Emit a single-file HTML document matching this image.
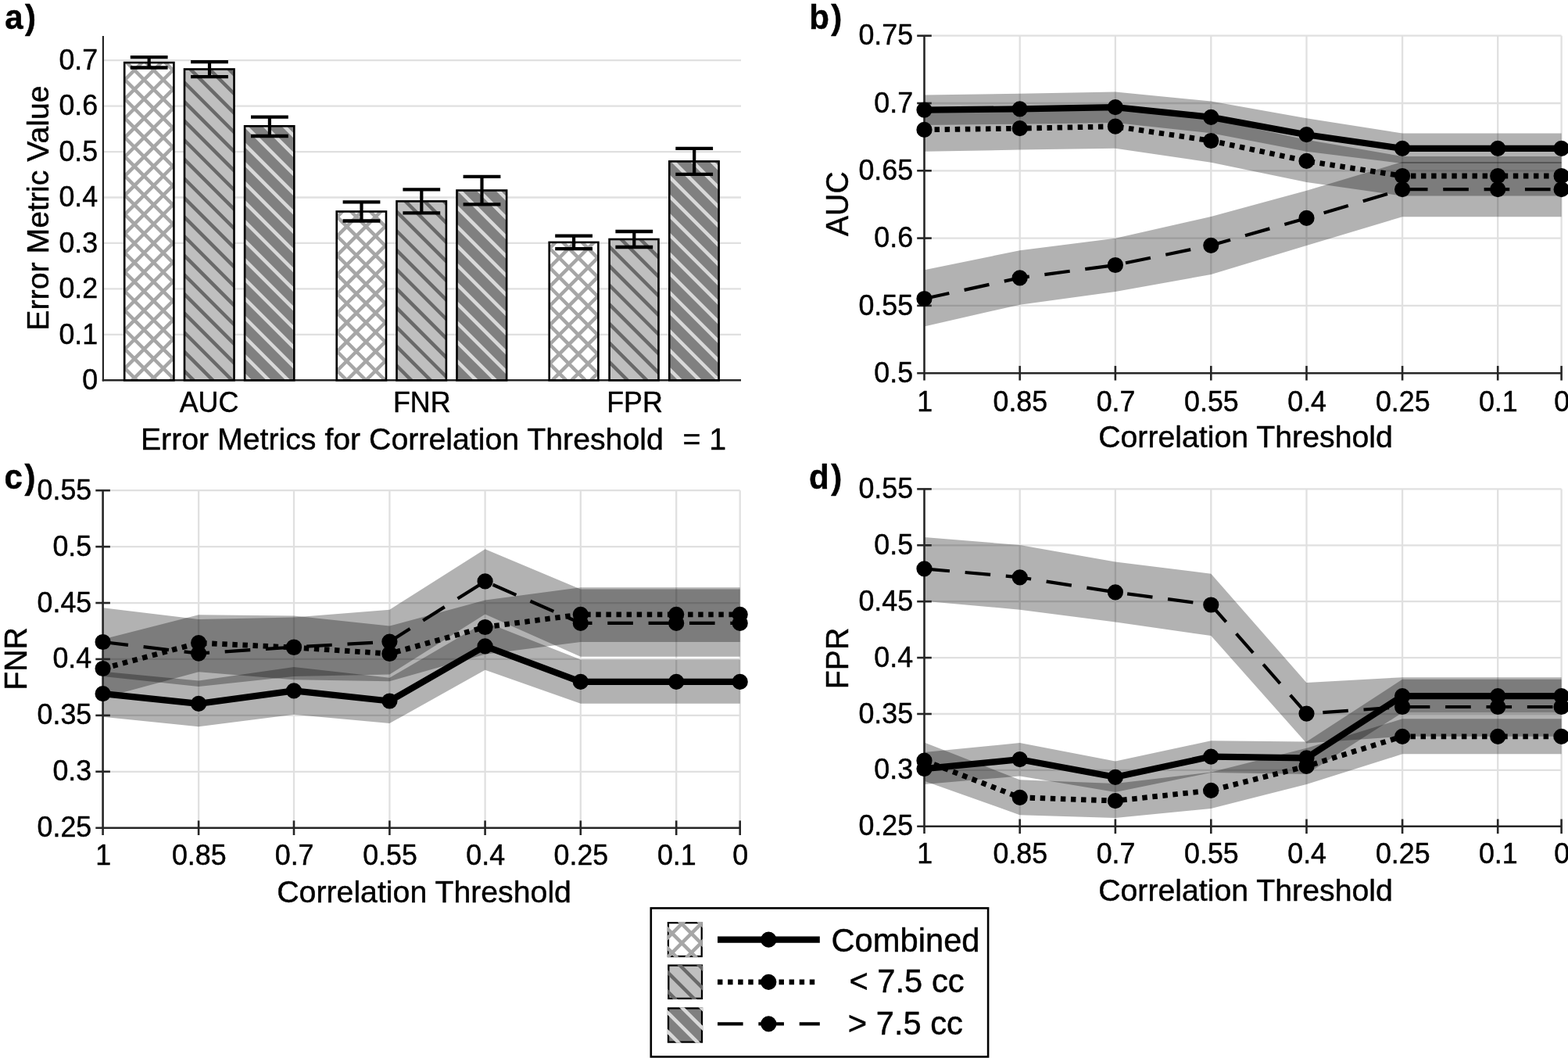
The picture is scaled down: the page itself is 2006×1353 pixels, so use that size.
<!DOCTYPE html>
<html lang="en">
<head>
<meta charset="utf-8">
<title>Error metrics versus correlation threshold</title>
<style>
html,body{margin:0;padding:0;background:#fff;}
body{width:2006px;height:1353px;overflow:hidden;}
main{display:block;margin:0;padding:0;width:2006px;height:1353px;}
svg{display:block;font-family:"Liberation Sans", Arial, Helvetica, sans-serif;fill:#000;}
svg text{fill:#000;stroke:#000;stroke-width:0.45px;stroke-linejoin:round;}
</style>
</head>
<body>
<main>
<svg width="2006" height="1353" viewBox="0 0 2006 1353">
<rect width="2006" height="1353" fill="#fff"/>
<line x1="131.9" y1="427.85" x2="948" y2="427.85" stroke="#e0e0e0" stroke-width="2.3"/>
<line x1="131.9" y1="369.4" x2="948" y2="369.4" stroke="#e0e0e0" stroke-width="2.3"/>
<line x1="131.9" y1="310.95" x2="948" y2="310.95" stroke="#e0e0e0" stroke-width="2.3"/>
<line x1="131.9" y1="252.5" x2="948" y2="252.5" stroke="#e0e0e0" stroke-width="2.3"/>
<line x1="131.9" y1="194.05" x2="948" y2="194.05" stroke="#e0e0e0" stroke-width="2.3"/>
<line x1="131.9" y1="135.6" x2="948" y2="135.6" stroke="#e0e0e0" stroke-width="2.3"/>
<line x1="131.9" y1="77.15" x2="948" y2="77.15" stroke="#e0e0e0" stroke-width="2.3"/>
<line x1="131.9" y1="46" x2="131.9" y2="487.4" stroke="#262626" stroke-width="2.2"/>
<line x1="130.8" y1="486.3" x2="948" y2="486.3" stroke="#262626" stroke-width="2.4"/>
<clipPath id="c1"><rect x="159.2" y="80.05" width="63.2" height="406.25"/></clipPath>
<rect x="159.2" y="80.05" width="63.2" height="406.25" fill="#fff"/>
<path d="M156.2 0.1L225.4 69.3M156.2 24.7L225.4 93.9M156.2 49.3L225.4 118.5M156.2 73.9L225.4 143.1M156.2 98.5L225.4 167.7M156.2 123.1L225.4 192.3M156.2 147.7L225.4 216.9M156.2 172.3L225.4 241.5M156.2 196.9L225.4 266.1M156.2 221.5L225.4 290.7M156.2 246.1L225.4 315.3M156.2 270.7L225.4 339.9M156.2 295.3L225.4 364.5M156.2 319.9L225.4 389.1M156.2 344.5L225.4 413.7M156.2 369.1L225.4 438.3M156.2 393.7L225.4 462.9M156.2 418.3L225.4 487.5M156.2 442.9L225.4 512.1M156.2 467.5L225.4 536.7M156.2 492.1L225.4 561.3M156.2 80.9L225.4 11.7M156.2 105.5L225.4 36.3M156.2 130.1L225.4 60.9M156.2 154.7L225.4 85.5M156.2 179.3L225.4 110.1M156.2 203.9L225.4 134.7M156.2 228.5L225.4 159.3M156.2 253.1L225.4 183.9M156.2 277.7L225.4 208.5M156.2 302.3L225.4 233.1M156.2 326.9L225.4 257.7M156.2 351.5L225.4 282.3M156.2 376.1L225.4 306.9M156.2 400.7L225.4 331.5M156.2 425.3L225.4 356.1M156.2 449.9L225.4 380.7M156.2 474.5L225.4 405.3M156.2 499.1L225.4 429.9M156.2 523.7L225.4 454.5M156.2 548.3L225.4 479.1M156.2 572.9L225.4 503.7" stroke="#a6a6a6" stroke-width="4.5" fill="none" clip-path="url(#c1)"/>
<rect x="159.2" y="80.05" width="63.2" height="406.25" fill="none" stroke="#000" stroke-width="2.6"/>
<clipPath id="c2"><rect x="236" y="88.5" width="63.5" height="397.8"/></clipPath>
<rect x="236" y="88.5" width="63.5" height="397.8" fill="#bfbfbf"/>
<path d="M233 4.2L302.5 73.7M233 28.8L302.5 98.3M233 53.4L302.5 122.9M233 78L302.5 147.5M233 102.6L302.5 172.1M233 127.2L302.5 196.7M233 151.8L302.5 221.3M233 176.4L302.5 245.9M233 201L302.5 270.5M233 225.6L302.5 295.1M233 250.2L302.5 319.7M233 274.8L302.5 344.3M233 299.4L302.5 368.9M233 324L302.5 393.5M233 348.6L302.5 418.1M233 373.2L302.5 442.7M233 397.8L302.5 467.3M233 422.4L302.5 491.9M233 447L302.5 516.5M233 471.6L302.5 541.1M233 496.2L302.5 565.7" stroke="#696969" stroke-width="4.5" fill="none" clip-path="url(#c2)"/>
<rect x="236" y="88.5" width="63.5" height="397.8" fill="none" stroke="#000" stroke-width="2.6"/>
<clipPath id="c3"><rect x="313.1" y="161.3" width="63.2" height="325"/></clipPath>
<rect x="313.1" y="161.3" width="63.2" height="325" fill="#808080"/>
<path d="M310.1 83.4L379.3 152.6M310.1 108L379.3 177.2M310.1 132.6L379.3 201.8M310.1 157.2L379.3 226.4M310.1 181.8L379.3 251M310.1 206.4L379.3 275.6M310.1 231L379.3 300.2M310.1 255.6L379.3 324.8M310.1 280.2L379.3 349.4M310.1 304.8L379.3 374M310.1 329.4L379.3 398.6M310.1 354L379.3 423.2M310.1 378.6L379.3 447.8M310.1 403.2L379.3 472.4M310.1 427.8L379.3 497M310.1 452.4L379.3 521.6M310.1 477L379.3 546.2M310.1 501.6L379.3 570.8" stroke="#d9d9d9" stroke-width="4.5" fill="none" clip-path="url(#c3)"/>
<rect x="313.1" y="161.3" width="63.2" height="325" fill="none" stroke="#000" stroke-width="2.6"/>
<clipPath id="c4"><rect x="430.7" y="270.5" width="63.3" height="215.8"/></clipPath>
<rect x="430.7" y="270.5" width="63.3" height="215.8" fill="#fff"/>
<path d="M427.7 199.9L497 269.2M427.7 224.5L497 293.8M427.7 249.1L497 318.4M427.7 273.7L497 343M427.7 298.3L497 367.6M427.7 322.9L497 392.2M427.7 347.5L497 416.8M427.7 372.1L497 441.4M427.7 396.7L497 466M427.7 421.3L497 490.6M427.7 445.9L497 515.2M427.7 470.5L497 539.8M427.7 495.1L497 564.4M427.7 256.3L497 187M427.7 280.9L497 211.6M427.7 305.5L497 236.2M427.7 330.1L497 260.8M427.7 354.7L497 285.4M427.7 379.3L497 310M427.7 403.9L497 334.6M427.7 428.5L497 359.2M427.7 453.1L497 383.8M427.7 477.7L497 408.4M427.7 502.3L497 433M427.7 526.9L497 457.6M427.7 551.5L497 482.2M427.7 576.1L497 506.8" stroke="#a6a6a6" stroke-width="4.5" fill="none" clip-path="url(#c4)"/>
<rect x="430.7" y="270.5" width="63.3" height="215.8" fill="none" stroke="#000" stroke-width="2.6"/>
<clipPath id="c5"><rect x="507.5" y="257.4" width="63.4" height="228.9"/></clipPath>
<rect x="507.5" y="257.4" width="63.4" height="228.9" fill="#bfbfbf"/>
<path d="M504.5 169.4L573.9 238.8M504.5 194L573.9 263.4M504.5 218.6L573.9 288M504.5 243.2L573.9 312.6M504.5 267.8L573.9 337.2M504.5 292.4L573.9 361.8M504.5 317L573.9 386.4M504.5 341.6L573.9 411M504.5 366.2L573.9 435.6M504.5 390.8L573.9 460.2M504.5 415.4L573.9 484.8M504.5 440L573.9 509.4M504.5 464.6L573.9 534M504.5 489.2L573.9 558.6" stroke="#696969" stroke-width="4.5" fill="none" clip-path="url(#c5)"/>
<rect x="507.5" y="257.4" width="63.4" height="228.9" fill="none" stroke="#000" stroke-width="2.6"/>
<clipPath id="c6"><rect x="584.5" y="243.5" width="63.6" height="242.8"/></clipPath>
<rect x="584.5" y="243.5" width="63.6" height="242.8" fill="#808080"/>
<path d="M581.5 163.4L651.1 233M581.5 188L651.1 257.6M581.5 212.6L651.1 282.2M581.5 237.2L651.1 306.8M581.5 261.8L651.1 331.4M581.5 286.4L651.1 356M581.5 311L651.1 380.6M581.5 335.6L651.1 405.2M581.5 360.2L651.1 429.8M581.5 384.8L651.1 454.4M581.5 409.4L651.1 479M581.5 434L651.1 503.6M581.5 458.6L651.1 528.2M581.5 483.2L651.1 552.8M581.5 507.8L651.1 577.4" stroke="#d9d9d9" stroke-width="4.5" fill="none" clip-path="url(#c6)"/>
<rect x="584.5" y="243.5" width="63.6" height="242.8" fill="none" stroke="#000" stroke-width="2.6"/>
<clipPath id="c7"><rect x="702.7" y="309.9" width="62.7" height="176.4"/></clipPath>
<rect x="702.7" y="309.9" width="62.7" height="176.4" fill="#fff"/>
<path d="M699.7 240.3L768.4 309M699.7 264.9L768.4 333.6M699.7 289.5L768.4 358.2M699.7 314.1L768.4 382.8M699.7 338.7L768.4 407.4M699.7 363.3L768.4 432M699.7 387.9L768.4 456.6M699.7 412.5L768.4 481.2M699.7 437.1L768.4 505.8M699.7 461.7L768.4 530.4M699.7 486.3L768.4 555M699.7 296.3L768.4 227.6M699.7 320.9L768.4 252.2M699.7 345.5L768.4 276.8M699.7 370.1L768.4 301.4M699.7 394.7L768.4 326M699.7 419.3L768.4 350.6M699.7 443.9L768.4 375.2M699.7 468.5L768.4 399.8M699.7 493.1L768.4 424.4M699.7 517.7L768.4 449M699.7 542.3L768.4 473.6M699.7 566.9L768.4 498.2" stroke="#a6a6a6" stroke-width="4.5" fill="none" clip-path="url(#c7)"/>
<rect x="702.7" y="309.9" width="62.7" height="176.4" fill="none" stroke="#000" stroke-width="2.6"/>
<clipPath id="c8"><rect x="779.6" y="306" width="62.9" height="180.3"/></clipPath>
<rect x="779.6" y="306" width="62.9" height="180.3" fill="#bfbfbf"/>
<path d="M776.6 238.7L845.5 307.6M776.6 263.3L845.5 332.2M776.6 287.9L845.5 356.8M776.6 312.5L845.5 381.4M776.6 337.1L845.5 406M776.6 361.7L845.5 430.6M776.6 386.3L845.5 455.2M776.6 410.9L845.5 479.8M776.6 435.5L845.5 504.4M776.6 460.1L845.5 529M776.6 484.7L845.5 553.6" stroke="#696969" stroke-width="4.5" fill="none" clip-path="url(#c8)"/>
<rect x="779.6" y="306" width="62.9" height="180.3" fill="none" stroke="#000" stroke-width="2.6"/>
<clipPath id="c9"><rect x="856.3" y="206.4" width="63.3" height="279.9"/></clipPath>
<rect x="856.3" y="206.4" width="63.3" height="279.9" fill="#808080"/>
<path d="M853.3 124.7L922.6 194M853.3 149.3L922.6 218.6M853.3 173.9L922.6 243.2M853.3 198.5L922.6 267.8M853.3 223.1L922.6 292.4M853.3 247.7L922.6 317M853.3 272.3L922.6 341.6M853.3 296.9L922.6 366.2M853.3 321.5L922.6 390.8M853.3 346.1L922.6 415.4M853.3 370.7L922.6 440M853.3 395.3L922.6 464.6M853.3 419.9L922.6 489.2M853.3 444.5L922.6 513.8M853.3 469.1L922.6 538.4M853.3 493.7L922.6 563" stroke="#d9d9d9" stroke-width="4.5" fill="none" clip-path="url(#c9)"/>
<rect x="856.3" y="206.4" width="63.3" height="279.9" fill="none" stroke="#000" stroke-width="2.6"/>
<line x1="190.7" y1="73.2" x2="190.7" y2="86.5" stroke="#000" stroke-width="4.2"/>
<line x1="166.8" y1="73.2" x2="214.6" y2="73.2" stroke="#000" stroke-width="4.3"/>
<line x1="166.8" y1="86.5" x2="214.6" y2="86.5" stroke="#000" stroke-width="4.3"/>
<line x1="268" y1="79.1" x2="268" y2="98.1" stroke="#000" stroke-width="4.2"/>
<line x1="244.1" y1="79.1" x2="291.9" y2="79.1" stroke="#000" stroke-width="4.3"/>
<line x1="244.1" y1="98.1" x2="291.9" y2="98.1" stroke="#000" stroke-width="4.3"/>
<line x1="344.9" y1="149.6" x2="344.9" y2="174" stroke="#000" stroke-width="4.2"/>
<line x1="321" y1="149.6" x2="368.8" y2="149.6" stroke="#000" stroke-width="4.3"/>
<line x1="321" y1="174" x2="368.8" y2="174" stroke="#000" stroke-width="4.3"/>
<line x1="462.5" y1="258.3" x2="462.5" y2="282.5" stroke="#000" stroke-width="4.2"/>
<line x1="438.6" y1="258.3" x2="486.4" y2="258.3" stroke="#000" stroke-width="4.3"/>
<line x1="438.6" y1="282.5" x2="486.4" y2="282.5" stroke="#000" stroke-width="4.3"/>
<line x1="539.3" y1="242.3" x2="539.3" y2="272.3" stroke="#000" stroke-width="4.2"/>
<line x1="515.4" y1="242.3" x2="563.2" y2="242.3" stroke="#000" stroke-width="4.3"/>
<line x1="515.4" y1="272.3" x2="563.2" y2="272.3" stroke="#000" stroke-width="4.3"/>
<line x1="616.5" y1="225.9" x2="616.5" y2="261.3" stroke="#000" stroke-width="4.2"/>
<line x1="592.6" y1="225.9" x2="640.4" y2="225.9" stroke="#000" stroke-width="4.3"/>
<line x1="592.6" y1="261.3" x2="640.4" y2="261.3" stroke="#000" stroke-width="4.3"/>
<line x1="734.1" y1="301.7" x2="734.1" y2="318.2" stroke="#000" stroke-width="4.2"/>
<line x1="710.2" y1="301.7" x2="758" y2="301.7" stroke="#000" stroke-width="4.3"/>
<line x1="710.2" y1="318.2" x2="758" y2="318.2" stroke="#000" stroke-width="4.3"/>
<line x1="811.3" y1="296" x2="811.3" y2="316" stroke="#000" stroke-width="4.2"/>
<line x1="787.4" y1="296" x2="835.2" y2="296" stroke="#000" stroke-width="4.3"/>
<line x1="787.4" y1="316" x2="835.2" y2="316" stroke="#000" stroke-width="4.3"/>
<line x1="888.2" y1="189.8" x2="888.2" y2="222.9" stroke="#000" stroke-width="4.2"/>
<line x1="864.3" y1="189.8" x2="912.1" y2="189.8" stroke="#000" stroke-width="4.3"/>
<line x1="864.3" y1="222.9" x2="912.1" y2="222.9" stroke="#000" stroke-width="4.3"/>
<text transform="translate(125.2 498.1) scale(1 1.035)" font-size="35.8" text-anchor="end">0</text>
<text transform="translate(125.2 439.65) scale(1 1.035)" font-size="35.8" text-anchor="end">0.1</text>
<text transform="translate(125.2 381.2) scale(1 1.035)" font-size="35.8" text-anchor="end">0.2</text>
<text transform="translate(125.2 322.75) scale(1 1.035)" font-size="35.8" text-anchor="end">0.3</text>
<text transform="translate(125.2 264.3) scale(1 1.035)" font-size="35.8" text-anchor="end">0.4</text>
<text transform="translate(125.2 205.85) scale(1 1.035)" font-size="35.8" text-anchor="end">0.5</text>
<text transform="translate(125.2 147.4) scale(1 1.035)" font-size="35.8" text-anchor="end">0.6</text>
<text transform="translate(125.2 88.95) scale(1 1.035)" font-size="35.8" text-anchor="end">0.7</text>
<text transform="translate(267.5 527.2) scale(1 1.035)" font-size="35.8" text-anchor="middle">AUC</text>
<text transform="translate(539.7 527.2) scale(1 1.035)" font-size="35.8" text-anchor="middle">FNR</text>
<text transform="translate(812 527.2) scale(1 1.035)" font-size="35.8" text-anchor="middle">FPR</text>
<text x="554.5" y="574.85" font-size="39.25" text-anchor="middle" xml:space="preserve">Error Metrics for Correlation Threshold  <tspan dx="2.8">= 1</tspan></text>
<text x="61.5" y="266" font-size="39.25" text-anchor="middle" transform="rotate(-90 61.5 266)">Error Metric Value</text>
<text transform="translate(6.2 37.3) scale(1 1.04)" font-size="42" font-weight="bold" stroke-width="0.2">a<tspan dx="2.5">)</tspan></text>
<line x1="1182.5" y1="45.7" x2="1997.6" y2="45.7" stroke="#e0e0e0" stroke-width="2.3"/>
<line x1="1182.5" y1="132" x2="1997.6" y2="132" stroke="#e0e0e0" stroke-width="2.3"/>
<line x1="1182.5" y1="218.3" x2="1997.6" y2="218.3" stroke="#e0e0e0" stroke-width="2.3"/>
<line x1="1182.5" y1="304.6" x2="1997.6" y2="304.6" stroke="#e0e0e0" stroke-width="2.3"/>
<line x1="1182.5" y1="390.9" x2="1997.6" y2="390.9" stroke="#e0e0e0" stroke-width="2.3"/>
<line x1="1304.7" y1="45.7" x2="1304.7" y2="477.2" stroke="#e0e0e0" stroke-width="2.3"/>
<line x1="1426.9" y1="45.7" x2="1426.9" y2="477.2" stroke="#e0e0e0" stroke-width="2.3"/>
<line x1="1549.3" y1="45.7" x2="1549.3" y2="477.2" stroke="#e0e0e0" stroke-width="2.3"/>
<line x1="1671.5" y1="45.7" x2="1671.5" y2="477.2" stroke="#e0e0e0" stroke-width="2.3"/>
<line x1="1794.1" y1="45.7" x2="1794.1" y2="477.2" stroke="#e0e0e0" stroke-width="2.3"/>
<line x1="1916.2" y1="45.7" x2="1916.2" y2="477.2" stroke="#e0e0e0" stroke-width="2.3"/>
<line x1="1997.6" y1="45.7" x2="1997.6" y2="477.2" stroke="#e0e0e0" stroke-width="2.3"/>
<polygon points="1182.5,121.5 1304.7,119.7 1426.9,117.5 1549.3,129.4 1671.5,151.2 1794.1,170.4 1916.2,170.4 1997.6,170.4 1997.6,209 1916.2,209 1794.1,209 1671.5,193.7 1549.3,170.2 1426.9,157.1 1304.7,158.7 1182.5,160" fill="#000" fill-opacity="0.3"/>
<polygon points="1182.5,138.1 1304.7,136.8 1426.9,133.7 1549.3,152.3 1671.5,178.7 1794.1,200 1916.2,200 1997.6,200 1997.6,250.6 1916.2,250.6 1794.1,250.6 1671.5,233.1 1549.3,207.7 1426.9,189.7 1304.7,191.6 1182.5,193.7" fill="#000" fill-opacity="0.3"/>
<polygon points="1182.5,345.2 1304.7,320.2 1426.9,304.7 1549.3,276.9 1671.5,243.75 1794.1,206.9 1916.2,206.9 1997.6,206.9 1997.6,277.25 1916.2,277.25 1794.1,277.25 1671.5,314 1549.3,350.9 1426.9,373.1 1304.7,389.7 1182.5,417.4" fill="#000" fill-opacity="0.3"/>
<line x1="1182.5" y1="45.7" x2="1182.5" y2="486.5" stroke="#262626" stroke-width="2.6"/>
<line x1="1173.2" y1="477.2" x2="1997.6" y2="477.2" stroke="#262626" stroke-width="2.6"/>
<line x1="1173.2" y1="45.7" x2="1191.8" y2="45.7" stroke="#262626" stroke-width="2.6"/>
<line x1="1173.2" y1="132" x2="1191.8" y2="132" stroke="#262626" stroke-width="2.6"/>
<line x1="1173.2" y1="218.3" x2="1191.8" y2="218.3" stroke="#262626" stroke-width="2.6"/>
<line x1="1173.2" y1="304.6" x2="1191.8" y2="304.6" stroke="#262626" stroke-width="2.6"/>
<line x1="1173.2" y1="390.9" x2="1191.8" y2="390.9" stroke="#262626" stroke-width="2.6"/>
<line x1="1304.7" y1="467.9" x2="1304.7" y2="486.5" stroke="#262626" stroke-width="2.6"/>
<line x1="1426.9" y1="467.9" x2="1426.9" y2="486.5" stroke="#262626" stroke-width="2.6"/>
<line x1="1549.3" y1="467.9" x2="1549.3" y2="486.5" stroke="#262626" stroke-width="2.6"/>
<line x1="1671.5" y1="467.9" x2="1671.5" y2="486.5" stroke="#262626" stroke-width="2.6"/>
<line x1="1794.1" y1="467.9" x2="1794.1" y2="486.5" stroke="#262626" stroke-width="2.6"/>
<line x1="1916.2" y1="467.9" x2="1916.2" y2="486.5" stroke="#262626" stroke-width="2.6"/>
<line x1="1997.6" y1="467.9" x2="1997.6" y2="486.5" stroke="#262626" stroke-width="2.6"/>
<polyline points="1182.5,382 1304.7,355.3 1426.9,339 1549.3,313.8 1671.5,278.9 1794.1,242.2 1916.2,242.2 1997.6,242.2" fill="none" stroke="#000" stroke-width="4.2" stroke-linejoin="round" stroke-dasharray="32.6 19.75"/>
<polyline points="1182.5,165.9 1304.7,164.2 1426.9,161.7 1549.3,180 1671.5,205.9 1794.1,225 1916.2,225 1997.6,225" fill="none" stroke="#000" stroke-width="6.8" stroke-linejoin="round" stroke-dasharray="6.45 6.635"/>
<polyline points="1182.5,140.6 1304.7,139.4 1426.9,137.2 1549.3,149.85 1671.5,172.2 1794.1,189.9 1916.2,189.9 1997.6,189.9" fill="none" stroke="#000" stroke-width="8.2" stroke-linejoin="round"/>
<path d="M1182.5 382h0M1304.7 355.3h0M1426.9 339h0M1549.3 313.8h0M1671.5 278.9h0M1794.1 242.2h0M1916.2 242.2h0M1997.6 242.2h0M1182.5 165.9h0M1304.7 164.2h0M1426.9 161.7h0M1549.3 180h0M1671.5 205.9h0M1794.1 225h0M1916.2 225h0M1997.6 225h0M1182.5 140.6h0M1304.7 139.4h0M1426.9 137.2h0M1549.3 149.85h0M1671.5 172.2h0M1794.1 189.9h0M1916.2 189.9h0M1997.6 189.9h0" stroke="#000" stroke-width="20.2" stroke-linecap="round" fill="none"/>
<text transform="translate(1168.1 57.4) scale(1 1.035)" font-size="35.8" text-anchor="end">0.75</text>
<text transform="translate(1168.1 143.7) scale(1 1.035)" font-size="35.8" text-anchor="end">0.7</text>
<text transform="translate(1168.1 230) scale(1 1.035)" font-size="35.8" text-anchor="end">0.65</text>
<text transform="translate(1168.1 316.3) scale(1 1.035)" font-size="35.8" text-anchor="end">0.6</text>
<text transform="translate(1168.1 402.6) scale(1 1.035)" font-size="35.8" text-anchor="end">0.55</text>
<text transform="translate(1168.1 488.9) scale(1 1.035)" font-size="35.8" text-anchor="end">0.5</text>
<text transform="translate(1183.1 525.5) scale(1 1.035)" font-size="35.8" text-anchor="middle">1</text>
<text transform="translate(1305.3 525.5) scale(1 1.035)" font-size="35.8" text-anchor="middle">0.85</text>
<text transform="translate(1427.5 525.5) scale(1 1.035)" font-size="35.8" text-anchor="middle">0.7</text>
<text transform="translate(1549.9 525.5) scale(1 1.035)" font-size="35.8" text-anchor="middle">0.55</text>
<text transform="translate(1672.1 525.5) scale(1 1.035)" font-size="35.8" text-anchor="middle">0.4</text>
<text transform="translate(1794.7 525.5) scale(1 1.035)" font-size="35.8" text-anchor="middle">0.25</text>
<text transform="translate(1916.8 525.5) scale(1 1.035)" font-size="35.8" text-anchor="middle">0.1</text>
<text transform="translate(1998.2 525.5) scale(1 1.035)" font-size="35.8" text-anchor="middle">0</text>
<text x="1593.5" y="572.2" font-size="39.25" text-anchor="middle">Correlation Threshold</text>
<text transform="translate(1084.8 260.7) rotate(-90) scale(1 1.045)" font-size="39.25" text-anchor="middle">AUC</text>
<text transform="translate(1035.2 37.3) scale(1 1.04)" font-size="42" font-weight="bold" stroke-width="0.2">b<tspan dx="2.5">)</tspan></text>
<line x1="131.6" y1="627.2" x2="946.7" y2="627.2" stroke="#e0e0e0" stroke-width="2.3"/>
<line x1="131.6" y1="699.12" x2="946.7" y2="699.12" stroke="#e0e0e0" stroke-width="2.3"/>
<line x1="131.6" y1="771.03" x2="946.7" y2="771.03" stroke="#e0e0e0" stroke-width="2.3"/>
<line x1="131.6" y1="842.95" x2="946.7" y2="842.95" stroke="#e0e0e0" stroke-width="2.3"/>
<line x1="131.6" y1="914.87" x2="946.7" y2="914.87" stroke="#e0e0e0" stroke-width="2.3"/>
<line x1="131.6" y1="986.78" x2="946.7" y2="986.78" stroke="#e0e0e0" stroke-width="2.3"/>
<line x1="254.1" y1="627.2" x2="254.1" y2="1058.7" stroke="#e0e0e0" stroke-width="2.3"/>
<line x1="376" y1="627.2" x2="376" y2="1058.7" stroke="#e0e0e0" stroke-width="2.3"/>
<line x1="498.4" y1="627.2" x2="498.4" y2="1058.7" stroke="#e0e0e0" stroke-width="2.3"/>
<line x1="620.6" y1="627.2" x2="620.6" y2="1058.7" stroke="#e0e0e0" stroke-width="2.3"/>
<line x1="742.8" y1="627.2" x2="742.8" y2="1058.7" stroke="#e0e0e0" stroke-width="2.3"/>
<line x1="865.2" y1="627.2" x2="865.2" y2="1058.7" stroke="#e0e0e0" stroke-width="2.3"/>
<line x1="946.7" y1="627.2" x2="946.7" y2="1058.7" stroke="#e0e0e0" stroke-width="2.3"/>
<polygon points="131.6,858.7 254.1,870.6 376,853.1 498.4,866.8 620.6,795.5 742.8,843.5 865.2,843.5 946.7,843.5 946.7,899.7 865.2,899.7 742.8,899.7 620.6,856.8 498.4,925 376,913.7 254.1,929.2 131.6,916.8" fill="#000" fill-opacity="0.3"/>
<polygon points="131.6,817.5 254.1,786.2 376,787.5 498.4,800.6 620.6,767.5 742.8,751.25 865.2,751.25 946.7,751.25 946.7,821 865.2,821 742.8,821 620.6,836.7 498.4,871.2 376,869.3 254.1,859.3 131.6,892.5" fill="#000" fill-opacity="0.3"/>
<polygon points="131.6,777.2 254.1,791.9 376,789.4 498.4,779.7 620.6,702.2 742.8,753.5 865.2,753.5 946.7,753.5 946.7,839.7 865.2,839.7 742.8,839.7 620.6,785.6 498.4,862.5 376,865 254.1,878.1 131.6,864.9" fill="#000" fill-opacity="0.3"/>
<line x1="131.6" y1="627.2" x2="131.6" y2="1068" stroke="#262626" stroke-width="2.6"/>
<line x1="122.3" y1="1058.7" x2="946.7" y2="1058.7" stroke="#262626" stroke-width="2.6"/>
<line x1="122.3" y1="627.2" x2="140.9" y2="627.2" stroke="#262626" stroke-width="2.6"/>
<line x1="122.3" y1="699.12" x2="140.9" y2="699.12" stroke="#262626" stroke-width="2.6"/>
<line x1="122.3" y1="771.03" x2="140.9" y2="771.03" stroke="#262626" stroke-width="2.6"/>
<line x1="122.3" y1="842.95" x2="140.9" y2="842.95" stroke="#262626" stroke-width="2.6"/>
<line x1="122.3" y1="914.87" x2="140.9" y2="914.87" stroke="#262626" stroke-width="2.6"/>
<line x1="122.3" y1="986.78" x2="140.9" y2="986.78" stroke="#262626" stroke-width="2.6"/>
<line x1="254.1" y1="1049.4" x2="254.1" y2="1068" stroke="#262626" stroke-width="2.6"/>
<line x1="376" y1="1049.4" x2="376" y2="1068" stroke="#262626" stroke-width="2.6"/>
<line x1="498.4" y1="1049.4" x2="498.4" y2="1068" stroke="#262626" stroke-width="2.6"/>
<line x1="620.6" y1="1049.4" x2="620.6" y2="1068" stroke="#262626" stroke-width="2.6"/>
<line x1="742.8" y1="1049.4" x2="742.8" y2="1068" stroke="#262626" stroke-width="2.6"/>
<line x1="865.2" y1="1049.4" x2="865.2" y2="1068" stroke="#262626" stroke-width="2.6"/>
<line x1="946.7" y1="1049.4" x2="946.7" y2="1068" stroke="#262626" stroke-width="2.6"/>
<polyline points="131.6,821 254.1,835.6 376,827.5 498.4,820.6 620.6,743.4 742.8,796.9 865.2,796.9 946.7,796.9" fill="none" stroke="#000" stroke-width="4.2" stroke-linejoin="round" stroke-dasharray="32.6 19.75"/>
<polyline points="131.6,855 254.1,822.2 376,828 498.4,836 620.6,802 742.8,785.8 865.2,785.8 946.7,785.8" fill="none" stroke="#000" stroke-width="6.8" stroke-linejoin="round" stroke-dasharray="6.45 6.635"/>
<polyline points="131.6,887.2 254.1,899.9 376,883.4 498.4,896.5 620.6,826.3 742.8,871.9 865.2,871.9 946.7,871.9" fill="none" stroke="#000" stroke-width="8.2" stroke-linejoin="round"/>
<path d="M131.6 821h0M254.1 835.6h0M376 827.5h0M498.4 820.6h0M620.6 743.4h0M742.8 796.9h0M865.2 796.9h0M946.7 796.9h0M131.6 855h0M254.1 822.2h0M376 828h0M498.4 836h0M620.6 802h0M742.8 785.8h0M865.2 785.8h0M946.7 785.8h0M131.6 887.2h0M254.1 899.9h0M376 883.4h0M498.4 896.5h0M620.6 826.3h0M742.8 871.9h0M865.2 871.9h0M946.7 871.9h0" stroke="#000" stroke-width="20.2" stroke-linecap="round" fill="none"/>
<text transform="translate(117.2 638.7) scale(1 1.035)" font-size="35.8" text-anchor="end">0.55</text>
<text transform="translate(117.2 710.62) scale(1 1.035)" font-size="35.8" text-anchor="end">0.5</text>
<text transform="translate(117.2 782.53) scale(1 1.035)" font-size="35.8" text-anchor="end">0.45</text>
<text transform="translate(117.2 854.45) scale(1 1.035)" font-size="35.8" text-anchor="end">0.4</text>
<text transform="translate(117.2 926.37) scale(1 1.035)" font-size="35.8" text-anchor="end">0.35</text>
<text transform="translate(117.2 998.28) scale(1 1.035)" font-size="35.8" text-anchor="end">0.3</text>
<text transform="translate(117.2 1070.2) scale(1 1.035)" font-size="35.8" text-anchor="end">0.25</text>
<text transform="translate(132.2 1106.1) scale(1 1.035)" font-size="35.8" text-anchor="middle">1</text>
<text transform="translate(254.7 1106.1) scale(1 1.035)" font-size="35.8" text-anchor="middle">0.85</text>
<text transform="translate(376.6 1106.1) scale(1 1.035)" font-size="35.8" text-anchor="middle">0.7</text>
<text transform="translate(499 1106.1) scale(1 1.035)" font-size="35.8" text-anchor="middle">0.55</text>
<text transform="translate(621.2 1106.1) scale(1 1.035)" font-size="35.8" text-anchor="middle">0.4</text>
<text transform="translate(743.4 1106.1) scale(1 1.035)" font-size="35.8" text-anchor="middle">0.25</text>
<text transform="translate(865.8 1106.1) scale(1 1.035)" font-size="35.8" text-anchor="middle">0.1</text>
<text transform="translate(947.3 1106.1) scale(1 1.035)" font-size="35.8" text-anchor="middle">0</text>
<text x="542.6" y="1153.8" font-size="39.25" text-anchor="middle">Correlation Threshold</text>
<text transform="translate(34.4 842.5) rotate(-90) scale(1 1.045)" font-size="39.25" text-anchor="middle">FNR</text>
<text transform="translate(5.6 625.3) scale(1 1.04)" font-size="42" font-weight="bold" stroke-width="0.2">c<tspan dx="2.5">)</tspan></text>
<line x1="1182.5" y1="625.4" x2="1997.6" y2="625.4" stroke="#e0e0e0" stroke-width="2.3"/>
<line x1="1182.5" y1="697.3" x2="1997.6" y2="697.3" stroke="#e0e0e0" stroke-width="2.3"/>
<line x1="1182.5" y1="769.2" x2="1997.6" y2="769.2" stroke="#e0e0e0" stroke-width="2.3"/>
<line x1="1182.5" y1="841.1" x2="1997.6" y2="841.1" stroke="#e0e0e0" stroke-width="2.3"/>
<line x1="1182.5" y1="913" x2="1997.6" y2="913" stroke="#e0e0e0" stroke-width="2.3"/>
<line x1="1182.5" y1="984.9" x2="1997.6" y2="984.9" stroke="#e0e0e0" stroke-width="2.3"/>
<line x1="1304.7" y1="625.4" x2="1304.7" y2="1056.8" stroke="#e0e0e0" stroke-width="2.3"/>
<line x1="1426.9" y1="625.4" x2="1426.9" y2="1056.8" stroke="#e0e0e0" stroke-width="2.3"/>
<line x1="1549.3" y1="625.4" x2="1549.3" y2="1056.8" stroke="#e0e0e0" stroke-width="2.3"/>
<line x1="1671.5" y1="625.4" x2="1671.5" y2="1056.8" stroke="#e0e0e0" stroke-width="2.3"/>
<line x1="1794.1" y1="625.4" x2="1794.1" y2="1056.8" stroke="#e0e0e0" stroke-width="2.3"/>
<line x1="1916.2" y1="625.4" x2="1916.2" y2="1056.8" stroke="#e0e0e0" stroke-width="2.3"/>
<line x1="1997.6" y1="625.4" x2="1997.6" y2="1056.8" stroke="#e0e0e0" stroke-width="2.3"/>
<polygon points="1182.5,961.9 1304.7,950 1426.9,973.5 1549.3,947.2 1671.5,948.6 1794.1,868.7 1916.2,868.7 1997.6,868.7 1997.6,911.3 1916.2,911.3 1794.1,911.3 1671.5,990 1549.3,988 1426.9,1013 1304.7,992.5 1182.5,1003.1" fill="#000" fill-opacity="0.3"/>
<polygon points="1182.5,949.4 1304.7,997.2 1426.9,1002 1549.3,987.6 1671.5,956.8 1794.1,919.3 1916.2,919.3 1997.6,919.3 1997.6,964.3 1916.2,964.3 1794.1,964.3 1671.5,1003 1549.3,1033.9 1426.9,1045.9 1304.7,1042.2 1182.5,998.7" fill="#000" fill-opacity="0.3"/>
<polygon points="1182.5,686.9 1304.7,697.1 1426.9,718.5 1549.3,733.7 1671.5,873.1 1794.1,866.2 1916.2,866.2 1997.6,866.2 1997.6,941.8 1916.2,941.8 1794.1,941.8 1671.5,950.6 1549.3,813.1 1426.9,795.6 1304.7,779.7 1182.5,768.7" fill="#000" fill-opacity="0.3"/>
<line x1="1182.5" y1="625.4" x2="1182.5" y2="1066.1" stroke="#262626" stroke-width="2.6"/>
<line x1="1173.2" y1="1056.8" x2="1997.6" y2="1056.8" stroke="#262626" stroke-width="2.6"/>
<line x1="1173.2" y1="625.4" x2="1191.8" y2="625.4" stroke="#262626" stroke-width="2.6"/>
<line x1="1173.2" y1="697.3" x2="1191.8" y2="697.3" stroke="#262626" stroke-width="2.6"/>
<line x1="1173.2" y1="769.2" x2="1191.8" y2="769.2" stroke="#262626" stroke-width="2.6"/>
<line x1="1173.2" y1="841.1" x2="1191.8" y2="841.1" stroke="#262626" stroke-width="2.6"/>
<line x1="1173.2" y1="913" x2="1191.8" y2="913" stroke="#262626" stroke-width="2.6"/>
<line x1="1173.2" y1="984.9" x2="1191.8" y2="984.9" stroke="#262626" stroke-width="2.6"/>
<line x1="1304.7" y1="1047.5" x2="1304.7" y2="1066.1" stroke="#262626" stroke-width="2.6"/>
<line x1="1426.9" y1="1047.5" x2="1426.9" y2="1066.1" stroke="#262626" stroke-width="2.6"/>
<line x1="1549.3" y1="1047.5" x2="1549.3" y2="1066.1" stroke="#262626" stroke-width="2.6"/>
<line x1="1671.5" y1="1047.5" x2="1671.5" y2="1066.1" stroke="#262626" stroke-width="2.6"/>
<line x1="1794.1" y1="1047.5" x2="1794.1" y2="1066.1" stroke="#262626" stroke-width="2.6"/>
<line x1="1916.2" y1="1047.5" x2="1916.2" y2="1066.1" stroke="#262626" stroke-width="2.6"/>
<line x1="1997.6" y1="1047.5" x2="1997.6" y2="1066.1" stroke="#262626" stroke-width="2.6"/>
<polyline points="1182.5,727.3 1304.7,738.3 1426.9,757.3 1549.3,773.5 1671.5,912.6 1794.1,904 1916.2,904 1997.6,904" fill="none" stroke="#000" stroke-width="4.2" stroke-linejoin="round" stroke-dasharray="32.6 19.75"/>
<polyline points="1182.5,972.7 1304.7,1019.8 1426.9,1024.1 1549.3,1010.8 1671.5,979.9 1794.1,941.8 1916.2,941.8 1997.6,941.8" fill="none" stroke="#000" stroke-width="6.8" stroke-linejoin="round" stroke-dasharray="6.45 6.635"/>
<polyline points="1182.5,983.1 1304.7,971.2 1426.9,993.8 1549.3,967.6 1671.5,969.3 1794.1,890.1 1916.2,890.1 1997.6,890.1" fill="none" stroke="#000" stroke-width="8.2" stroke-linejoin="round"/>
<path d="M1182.5 727.3h0M1304.7 738.3h0M1426.9 757.3h0M1549.3 773.5h0M1671.5 912.6h0M1794.1 904h0M1916.2 904h0M1997.6 904h0M1182.5 972.7h0M1304.7 1019.8h0M1426.9 1024.1h0M1549.3 1010.8h0M1671.5 979.9h0M1794.1 941.8h0M1916.2 941.8h0M1997.6 941.8h0M1182.5 983.1h0M1304.7 971.2h0M1426.9 993.8h0M1549.3 967.6h0M1671.5 969.3h0M1794.1 890.1h0M1916.2 890.1h0M1997.6 890.1h0" stroke="#000" stroke-width="20.2" stroke-linecap="round" fill="none"/>
<text transform="translate(1168.1 636.9) scale(1 1.035)" font-size="35.8" text-anchor="end">0.55</text>
<text transform="translate(1168.1 708.8) scale(1 1.035)" font-size="35.8" text-anchor="end">0.5</text>
<text transform="translate(1168.1 780.7) scale(1 1.035)" font-size="35.8" text-anchor="end">0.45</text>
<text transform="translate(1168.1 852.6) scale(1 1.035)" font-size="35.8" text-anchor="end">0.4</text>
<text transform="translate(1168.1 924.5) scale(1 1.035)" font-size="35.8" text-anchor="end">0.35</text>
<text transform="translate(1168.1 996.4) scale(1 1.035)" font-size="35.8" text-anchor="end">0.3</text>
<text transform="translate(1168.1 1068.3) scale(1 1.035)" font-size="35.8" text-anchor="end">0.25</text>
<text transform="translate(1183.1 1104.4) scale(1 1.035)" font-size="35.8" text-anchor="middle">1</text>
<text transform="translate(1305.3 1104.4) scale(1 1.035)" font-size="35.8" text-anchor="middle">0.85</text>
<text transform="translate(1427.5 1104.4) scale(1 1.035)" font-size="35.8" text-anchor="middle">0.7</text>
<text transform="translate(1549.9 1104.4) scale(1 1.035)" font-size="35.8" text-anchor="middle">0.55</text>
<text transform="translate(1672.1 1104.4) scale(1 1.035)" font-size="35.8" text-anchor="middle">0.4</text>
<text transform="translate(1794.7 1104.4) scale(1 1.035)" font-size="35.8" text-anchor="middle">0.25</text>
<text transform="translate(1916.8 1104.4) scale(1 1.035)" font-size="35.8" text-anchor="middle">0.1</text>
<text transform="translate(1998.2 1104.4) scale(1 1.035)" font-size="35.8" text-anchor="middle">0</text>
<text x="1593.5" y="1151.9" font-size="39.25" text-anchor="middle">Correlation Threshold</text>
<text transform="translate(1084.8 841.9) rotate(-90) scale(1 1.045)" font-size="39.25" text-anchor="middle">FPR</text>
<text transform="translate(1035.1 625.3) scale(1 1.04)" font-size="42" font-weight="bold" stroke-width="0.2">d<tspan dx="2.5">)</tspan></text>
<rect x="832.8" y="1161.4" width="431.3" height="190" fill="#fff" stroke="#000" stroke-width="2.6"/>
<clipPath id="c10"><rect x="853.75" y="1178.95" width="45.1" height="45.2"/></clipPath>
<rect x="854.9" y="1180.1" width="42.8" height="42.9" fill="#fff"/>
<rect x="854.9" y="1180.1" width="42.8" height="42.9" fill="none" stroke="#000" stroke-width="2.3"/>
<path d="M851.9 1111.9L900.7 1160.7M851.9 1136.5L900.7 1185.3M851.9 1161.1L900.7 1209.9M851.9 1185.7L900.7 1234.5M851.9 1210.3L900.7 1259.1M851.9 1234.9L900.7 1283.7M851.9 1177.1L900.7 1128.3M851.9 1201.7L900.7 1152.9M851.9 1226.3L900.7 1177.5M851.9 1250.9L900.7 1202.1M851.9 1275.5L900.7 1226.7" stroke="#a6a6a6" stroke-width="4.5" fill="none" clip-path="url(#c10)"/>
<clipPath id="c11"><rect x="854.15" y="1233.45" width="45" height="44.6"/></clipPath>
<rect x="855.3" y="1234.6" width="42.7" height="42.3" fill="#bfbfbf"/>
<rect x="855.3" y="1234.6" width="42.7" height="42.3" fill="none" stroke="#000" stroke-width="2.3"/>
<path d="M852.3 1167.7L901 1216.4M852.3 1192.3L901 1241M852.3 1216.9L901 1265.6M852.3 1241.5L901 1290.2M852.3 1266.1L901 1314.8M852.3 1290.7L901 1339.4" stroke="#696969" stroke-width="4.5" fill="none" clip-path="url(#c11)"/>
<clipPath id="c12"><rect x="853.85" y="1288.25" width="45.3" height="45.5"/></clipPath>
<rect x="855" y="1289.4" width="43" height="43.2" fill="#808080"/>
<rect x="855" y="1289.4" width="43" height="43.2" fill="none" stroke="#000" stroke-width="2.3"/>
<path d="M852 1243.4L901 1292.4M852 1268L901 1317M852 1292.6L901 1341.6M852 1317.2L901 1366.2M852 1341.8L901 1390.8" stroke="#d9d9d9" stroke-width="4.5" fill="none" clip-path="url(#c12)"/>
<polyline points="918,1201.7 1048.8,1201.7" fill="none" stroke="#000" stroke-width="8.2" stroke-linejoin="round"/>
<polyline points="918,1255.8 1048.8,1255.8" fill="none" stroke="#000" stroke-width="6.8" stroke-linejoin="round" stroke-dasharray="6.45 6.635"/>
<polyline points="918,1309.4 1048.8,1309.4" fill="none" stroke="#000" stroke-width="4.2" stroke-linejoin="round" stroke-dasharray="32.6 19.75"/>
<path d="M983.3 1201.7h0M983.3 1255.8h0M983.3 1309.4h0" stroke="#000" stroke-width="20.2" stroke-linecap="round" fill="none"/>
<text x="1158.5" y="1217" font-size="41.7" text-anchor="middle">Combined</text>
<text x="1160" y="1269" font-size="41.7" text-anchor="middle">&lt; 7.5 cc</text>
<text x="1158.4" y="1322.9" font-size="41.7" text-anchor="middle">&gt; 7.5 cc</text>
</svg>
</main>
</body>
</html>
